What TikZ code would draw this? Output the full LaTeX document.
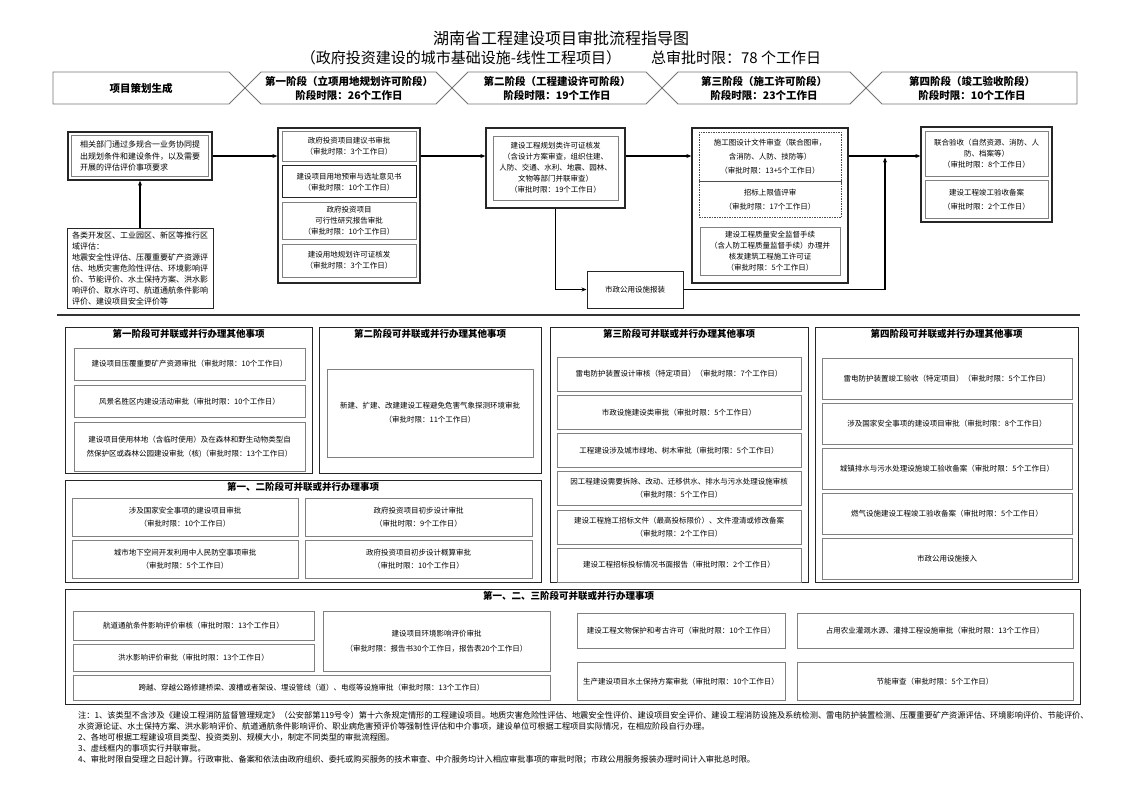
\documentclass[tikz,border=0pt]{standalone}
\usepackage{fontspec}
\setmainfont{Noto Sans CJK SC}
\usetikzlibrary{positioning, arrows.meta}

\begin{document}
\begin{tikzpicture}[
    x=1pt, y=-1pt,
    >={Stealth[length=5pt, width=4pt]},
    node distance = 4pt,
    font = \fontsize{7.5}{11}\selectfont,
    %% ── styles ──────────────────────────────────────────────
    banner/.style  = {draw=black!55, line width=0.8pt},
    bantext/.style = {align=center, inner sep=0pt,
                      font=\fontsize{10.5}{14}\selectfont\bfseries},
    frame/.style   = {draw=black!85, line width=1.3pt, inner sep=0pt},
    pframe/.style  = {draw=black!85, line width=1pt, inner sep=0pt},
    ptitle/.style  = {inner sep=2pt, font=\fontsize{9.5}{11}\selectfont\bfseries},
    item/.style    = {draw=black!50, line width=0.6pt, align=center, inner sep=1pt},
    dbox/.style    = {item, draw=black!70, dash pattern=on 1.5pt off 1pt},
    arr/.style     = {->, line width=1.3pt},
    note/.style    = {align=left, anchor=north west, inner sep=0pt,
                      font=\fontsize{8.2}{11}\selectfont}
]
\useasboundingbox (0,0) rectangle (1122,793);

%% ── Title ───────────────────────────────────────────────────
\node (title) at (561,38) {\fontsize{16}{16}\selectfont 湖南省工程建设项目审批流程指导图};
\node (subtitle) at (561,58)
    {\fontsize{15}{15}\selectfont （政府投资建设的城市基础设施-线性工程项目）\quad\quad 总审批时限：78 个工作日};

%% ── Stage banner ────────────────────────────────────────────
\draw[banner] (53,72) -- (229,72) -- (245,88) -- (229,104) -- (53,104) -- cycle;
\draw[banner] (245,88) -- (261,72) -- (436,72) -- (452,88) -- (436,104) -- (261,104) -- cycle;
\draw[banner] (452,88) -- (468,72) -- (646,72) -- (662,88) -- (646,104) -- (468,104) -- cycle;
\draw[banner] (662,88) -- (678,72) -- (850,72) -- (866,88) -- (850,104) -- (678,104) -- cycle;
\draw[banner] (866,88) -- (882,72) -- (1077,72) -- (1077,104) -- (882,104) -- cycle;

\node[bantext] (plan) at (141,88) {项目策划生成};
\node[bantext] (st1) at (349,88) {第一阶段（立项用地规划许可阶段）\\阶段时限：26个工作日};
\node[bantext] (st2) at (557,88) {第二阶段（工程建设许可阶段）\\阶段时限：19个工作日};
\node[bantext] (st3) at (764,88) {第三阶段（施工许可阶段）\\阶段时限：23个工作日};
\node[bantext] (st4) at (972,88) {第四阶段（竣工验收阶段）\\阶段时限：10个工作日};

%% ── Planning boxes ──────────────────────────────────────────
\node[frame, minimum width=144pt, minimum height=48pt] (reqframe) at (140,156) {};
\node[item, minimum width=137pt, minimum height=41pt, align=left,
      font=\fontsize{8}{11.5}\selectfont] (req) at (reqframe)
    {相关部门通过多规合一业务协同提\\出规划条件和建设条件，以及需要\\开展的评估评价事项要求};
\node[pframe, minimum width=146pt, minimum height=80pt, align=left, inner sep=2pt,
      font=\fontsize{8}{11}\selectfont] (areaeval) at (140,268)
    {各类开发区、工业园区、新区等推行区\\域评估：\\地震安全性评估、压覆重要矿产资源评\\估、地质灾害危险性评估、环境影响评\\价、节能评价、水土保持方案、洪水影\\响评价、取水许可、航道通航条件影响\\评价、建设项目安全评价等};

%% ── Stage 1 ─────────────────────────────────────────────────
\node[frame, minimum width=142pt, minimum height=155pt] (s1frame) at (349,205.5) {};
\node[item, minimum width=134pt, minimum height=30pt] (s1a) at (349,146)
    {政府投资项目建议书审批\\（审批时限：3个工作日）};
\node[item, draw=black!85, line width=0.9pt, minimum width=134pt, minimum height=32pt,
      below=of s1a] (s1b) {建设项目用地预审与选址意见书\\（审批时限：10个工作日）};
\node[item, minimum width=134pt, minimum height=37pt, below=of s1b] (s1c)
    {政府投资项目\\可行性研究报告审批\\（审批时限：10个工作日）};
\node[item, minimum width=134pt, minimum height=33pt, below=of s1c] (s1d)
    {建设用地规划许可证核发\\（审批时限：3个工作日）};

%% ── Stage 2 ─────────────────────────────────────────────────
\node[frame, minimum width=139pt, minimum height=80pt] (s2frame) at (555.5,168) {};
\node[item, minimum width=125pt, minimum height=64pt] (s2a) at (s2frame)
    {建设工程规划类许可证核发\\（含设计方案审查，组织住建、\\人防、交通、水利、地震、园林、\\文物等部门并联审查）\\（审批时限：19个工作日）};
\node[pframe, minimum width=96pt, minimum height=37pt] (pub) at (635,289.5) {市政公用设施报装};

%% ── Stage 3 ─────────────────────────────────────────────────
\node[frame, minimum width=156pt, minimum height=155pt] (s3frame) at (770,205.5) {};
\node[dbox, minimum width=142pt, minimum height=49pt, font=\fontsize{7.5}{14}\selectfont]
    (s3a) at (770,156.5) {施工图设计文件审查（联合图审，\\含消防、人防、技防等）\\（审批时限：13+5个工作日）};
\node[dbox, minimum width=142pt, minimum height=36pt, font=\fontsize{7.5}{14}\selectfont,
      below=0pt of s3a] (s3b) {招标上限值评审\\（审批时限：17个工作日）};
\node[item, minimum width=140pt, minimum height=48pt, below=9pt of s3b] (s3c)
    {建设工程质量安全监督手续\\（含人防工程质量监督手续）办理并\\核发建筑工程施工许可证\\（审批时限：5个工作日）};

%% ── Stage 4 ─────────────────────────────────────────────────
\node[frame, minimum width=131pt, minimum height=95pt] (s4frame) at (986.5,174.5) {};
\node[item, minimum width=123pt, minimum height=45pt] (s4a) at (986.5,153.5)
    {联合验收（自然资源、消防、人\\防、档案等）\\（审批时限：8个工作日）};
\node[item, minimum width=123pt, minimum height=38pt, font=\fontsize{7.5}{14}\selectfont,
      below=of s4a] (s4b) {建设工程竣工验收备案\\（审批时限：2个工作日）};

%% ── Arrows: main flow ───────────────────────────────────────
\coordinate (join) at (885,157.5);
\draw[arr] (areaeval) -- (reqframe);
\draw[arr] (reqframe.east) -- (reqframe.east -| s1frame.west);
\draw[arr] (reqframe.east -| s1frame.east) -- (reqframe.east -| s2frame.west);
\draw[arr] (reqframe.east -| s2frame.east) -- (reqframe.east -| s3frame.west);
\draw[arr] (reqframe.east -| s3frame.east) -- (reqframe.east -| s4frame.west);
\draw[arr] (s2frame.south) |- (pub.west);
\draw[arr] (pub.east) -| (join);

%% ── Separator ───────────────────────────────────────────────
\draw[line width=1.3pt, black!80] (57,315) -- (1080,315);

%% ── Parallel items: stage 1 ─────────────────────────────────
\node[pframe, minimum width=247pt, minimum height=146pt] (p1frame) at (188.5,400) {};
\node[ptitle, below=1pt of p1frame.north] (p1title) {第一阶段可并联或并行办理其他事项};
\node[item, minimum width=231pt, minimum height=32pt] (p1a) at (189.5,364)
    {建设项目压覆重要矿产资源审批（审批时限：10个工作日）};
\node[item, minimum width=231pt, minimum height=32pt, below=5pt of p1a] (p1b)
    {风景名胜区内建设活动审批（审批时限：10个工作日）};
\node[item, minimum width=231pt, minimum height=49pt, below=of p1b,
      font=\fontsize{7.5}{14}\selectfont] (p1c)
    {建设项目使用林地（含临时使用）及在森林和野生动物类型自\\然保护区或森林公园建设审批（核)（审批时限：13个工作日）};

%% ── Parallel items: stage 2 ─────────────────────────────────
\node[pframe, minimum width=222pt, minimum height=146pt] (p2frame) at (430,400) {};
\node[ptitle, below=1pt of p2frame.north] (p2title) {第二阶段可并联或并行办理其他事项};
\node[item, minimum width=206pt, minimum height=88pt, font=\fontsize{7.5}{14}\selectfont]
    (p2a) at (430,413) {新建、扩建、改建建设工程避免危害气象探测环境审批\\（审批时限：11个工作日）};

%% ── Parallel items: stage 3 ─────────────────────────────────
\node[pframe, minimum width=258pt, minimum height=255pt] (p3frame) at (679,454.5) {};
\node[ptitle, below=1pt of p3frame.north] (p3title) {第三阶段可并联或并行办理其他事项};
\begin{scope}[every node/.append style={item, minimum width=244pt, minimum height=34pt,
              font=\fontsize{7.5}{13}\selectfont}, node distance=3.6pt]
\node (p3a) at (679,374) {雷电防护装置设计审核（特定项目）（审批时限：7个工作日）};
\node[below=of p3a] (p3b) {市政设施建设类审批（审批时限：5个工作日）};
\node[below=of p3b] (p3c) {工程建设涉及城市绿地、树木审批（审批时限：5个工作日）};
\node[below=of p3c] (p3d) {因工程建设需要拆除、改动、迁移供水、排水与污水处理设施审核\\（审批时限：5个工作日）};
\node[below=of p3d] (p3e) {建设工程施工招标文件（最高投标限价）、文件澄清或修改备案\\（审批时限：2个工作日）};
\node[below=of p3e] (p3f) {建设工程招标投标情况书面报告（审批时限：2个工作日）};
\end{scope}

%% ── Parallel items: stage 4 ─────────────────────────────────
\node[pframe, minimum width=263pt, minimum height=255pt] (p4frame) at (946.5,454.5) {};
\node[ptitle, below=1pt of p4frame.north] (p4title) {第四阶段可并联或并行办理其他事项};
\begin{scope}[every node/.append style={item, minimum width=250pt, minimum height=41pt},
              node distance=3.5pt]
\node (p4a) at (947,378.5) {雷电防护装置竣工验收（特定项目）（审批时限：5个工作日）};
\node[below=of p4a] (p4b) {涉及国家安全事项的建设项目审批（审批时限：8个工作日）};
\node[below=of p4b] (p4c) {城镇排水与污水处理设施竣工验收备案（审批时限：5个工作日）};
\node[below=of p4c] (p4d) {燃气设施建设工程竣工验收备案（审批时限：5个工作日）};
\node[below=of p4d] (p4e) {市政公用设施接入};
\end{scope}

%% ── Parallel items: stages 1 and 2 ──────────────────────────
\node[pframe, minimum width=476pt, minimum height=102pt] (p12frame) at (303,531) {};
\node[ptitle, below=1pt of p12frame.north] (p12title) {第一、二阶段可并联或并行办理事项};
\begin{scope}[every node/.append style={item, minimum height=38pt,
              font=\fontsize{7.5}{13}\selectfont}, node distance=3pt]
\node[minimum width=226pt] (p12a) at (185,517.5) {涉及国家安全事项的建设项目审批\\（审批时限：10个工作日）};
\node[minimum width=227pt] (p12b) at (418.5,517.5) {政府投资项目初步设计审批\\（审批时限：9个工作日）};
\node[minimum width=226pt, below=of p12a] (p12c) {城市地下空间开发利用中人民防空事项审批\\（审批时限：5个工作日）};
\node[minimum width=227pt, below=of p12b] (p12d) {政府投资项目初步设计概算审批\\（审批时限：10个工作日）};
\end{scope}

%% ── Parallel items: stages 1, 2 and 3 ───────────────────────
\node[pframe, minimum width=1015pt, minimum height=115pt] (p123frame) at (572.5,646.5) {};
\node[ptitle, below=1pt of p123frame.north, xshift=-4pt] (p123title) {第一、二、三阶段可并联或并行办理事项};
\node[item, minimum width=241pt, minimum height=29pt] (q1) at (193.5,625.5)
    {航道通航条件影响评价审核（审批时限：13个工作日）};
\node[item, minimum width=241pt, minimum height=27pt, below=of q1] (q2)
    {洪水影响评价审批（审批时限：13个工作日）};
\node[item, minimum width=477pt, minimum height=25pt] (q3) at (311.5,688)
    {跨越、穿越公路修建桥梁、渡槽或者架设、埋设管线（道）、电缆等设施审批（审批时限：13个工作日）};
\node[item, minimum width=227pt, minimum height=60pt, font=\fontsize{7.5}{15}\selectfont]
    (q4) at (436.5,641) {建设项目环境影响评价审批\\（审批时限：报告书30个工作日，报告表20个工作日）};
\node[item, minimum width=208pt, minimum height=35pt] (q5) at (681,630.5)
    {建设工程文物保护和考古许可（审批时限：10个工作日）};
\node[item, minimum width=208pt, minimum height=38pt, below=14pt of q5] (q6)
    {生产建设项目水土保持方案审批（审批时限：10个工作日）};
\node[item, minimum width=276pt, minimum height=35pt] (q7) at (935,630.5)
    {占用农业灌溉水源、灌排工程设施审批（审批时限：13个工作日）};
\node[item, minimum width=276pt, minimum height=38pt, below=14pt of q7] (q8)
    {节能审查（审批时限：5个工作日）};

%% ── Notes ───────────────────────────────────────────────────
\node[note] (notes) at (78,711)
    {注：1、该类型不含涉及《建设工程消防监督管理规定》（公安部第119号令）第十六条规定情形的工程建设项目。地质灾害危险性评估、地震安全性评价、建设项目安全评价、建设工程消防设施及系统检测、雷电防护装置检测、压覆重要矿产资源评估、环境影响评价、节能评价、\\
     水资源论证、水土保持方案、洪水影响评价、航道通航条件影响评价、职业病危害预评价等强制性评估和中介事项，建设单位可根据工程项目实际情况，在相应阶段自行办理。\\
     2、各地可根据工程建设项目类型、投资类别、规模大小，制定不同类型的审批流程图。\\
     3、虚线框内的事项实行并联审批。\\
     4、审批时限自受理之日起计算。行政审批、备案和依法由政府组织、委托或购买服务的技术审查、中介服务均计入相应审批事项的审批时限；市政公用服务报装办理时间计入审批总时限。};

\end{tikzpicture}
\end{document}
